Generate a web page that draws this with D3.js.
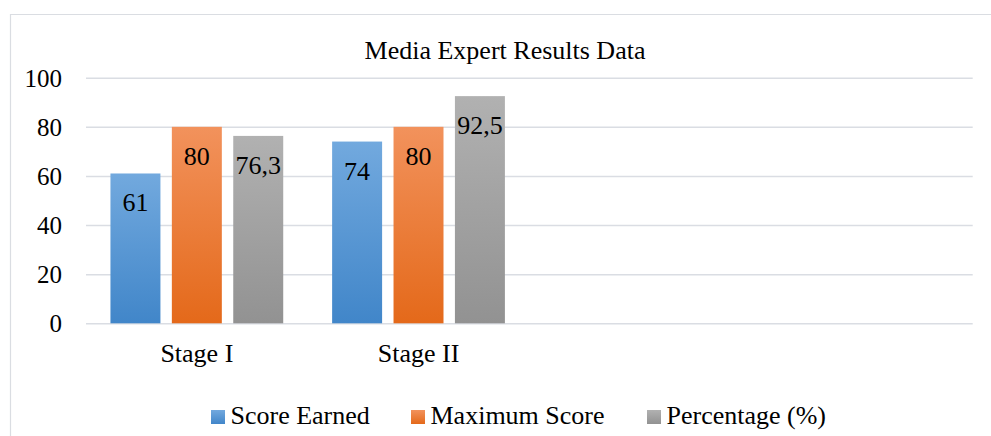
<!DOCTYPE html>
<html>
<head>
<meta charset="utf-8">
<script src="https://cdn.jsdelivr.net/npm/d3@7"></script>
<style>
  html, body { margin: 0; padding: 0; background: #fff; }
  svg { display: block; }
  text { font-family: "Liberation Serif", "Times New Roman", serif; fill: #000; }
</style>
</head>
<body>
<svg id="chart" width="991" height="436"></svg>
<script>
// ---- data ----
const categories = ["Stage I", "Stage II", "", ""];
const seriesNames = ["Score Earned", "Maximum Score", "Percentage (%)"];
const scoreEarned = [61, 74, null, null];
const maximumScore = [80, 80, null, null];
const percentage = [76.3, 92.5, null, null];
const yTicks = [0, 20, 40, 60, 80, 100];
const title = "Media Expert Results Data";

const seriesValues = [scoreEarned, maximumScore, percentage];
const gradients = [
  ["#72a9de", "#4186c9"],
  ["#f2925c", "#e4691a"],
  ["#b1b1b1", "#929292"]
];

const svg = d3.select("#chart");
const W = 991, H = 436;
const plot = { left: 86, right: 972.7, top: 77.7, bottom: 323.3 };

// defs: gradients
const defs = svg.append("defs");
gradients.forEach((g, i) => {
  const lg = defs.append("linearGradient").attr("id", "grad" + i)
    .attr("x1", 0).attr("y1", 0).attr("x2", 0).attr("y2", 1);
  lg.append("stop").attr("offset", "0%").attr("stop-color", g[0]);
  lg.append("stop").attr("offset", "100%").attr("stop-color", g[1]);
});

// outer border (left & top visible)
svg.append("path")
  .attr("d", `M10.5,${H} L10.5,14.5 L${W},14.5`)
  .attr("fill", "none").attr("stroke", "#dadde2").attr("stroke-width", 1.2);

// title
svg.append("text")
  .attr("x", 505).attr("y", 59)
  .attr("text-anchor", "middle")
  .attr("font-size", 26)
  .text(title);

// scales
const y = d3.scaleLinear().domain([0, 100]).range([plot.bottom, plot.top]);
const x0 = d3.scaleBand()
  .domain(d3.range(categories.length))
  .range([plot.left, plot.right])
  .paddingInner(0.2206).paddingOuter(0.1103);
const x1 = d3.scaleBand()
  .domain(d3.range(seriesNames.length))
  .range([0, x0.bandwidth()])
  .paddingInner(0.186).paddingOuter(0);

// gridlines via axis
const grid = svg.append("g")
  .attr("transform", `translate(${plot.left},0)`)
  .call(d3.axisLeft(y).tickValues(yTicks).tickSize(-(plot.right - plot.left)).tickFormat(""));
grid.select(".domain").remove();
grid.selectAll("line").attr("stroke", "#dadde3").attr("stroke-width", 1.6);

// y tick labels
const yAxis = svg.append("g")
  .attr("transform", `translate(62,0)`)
  .call(d3.axisLeft(y).tickValues(yTicks).tickSize(0).tickPadding(0));
yAxis.select(".domain").remove();
yAxis.selectAll("text")
  .attr("font-size", 25)
  .attr("font-family", '"Liberation Serif", "Times New Roman", serif')
  .attr("fill", "#000")
  .attr("dy", "0.34em");

// x tick labels
const xAxis = svg.append("g")
  .attr("transform", `translate(0,${plot.bottom})`)
  .call(d3.axisBottom(x0).tickSize(0).tickPadding(0).tickFormat(i => categories[i]));
xAxis.select(".domain").remove();
xAxis.selectAll("text")
  .attr("font-size", 26)
  .attr("font-family", '"Liberation Serif", "Times New Roman", serif')
  .attr("fill", "#000")
  .attr("dy", 0)
  .attr("y", 38.5);

// bars
const groups = svg.append("g").selectAll("g")
  .data(categories.map((c, i) => i))
  .join("g")
  .attr("transform", i => `translate(${x0(i)},0)`);

const barData = i => seriesValues.map((vals, s) => ({ s, v: vals[i] })).filter(d => d.v != null);

groups.selectAll("rect")
  .data(barData)
  .join("rect")
  .attr("x", d => x1(d.s))
  .attr("width", x1.bandwidth())
  .attr("y", d => y(d.v))
  .attr("height", d => y(0) - y(d.v))
  .attr("fill", d => `url(#grad${d.s})`);

groups.selectAll("text.lbl")
  .data(barData)
  .join("text")
  .attr("class", "lbl")
  .attr("x", d => x1(d.s) + x1.bandwidth() / 2)
  .attr("y", d => y(d.v) + 38)
  .attr("text-anchor", "middle")
  .attr("font-size", 26)
  .text(d => String(d.v).replace(".", ","));

// legend
const legendX = [211, 411, 647];
const legend = svg.append("g");
seriesNames.forEach((name, i) => {
  legend.append("rect")
    .attr("x", legendX[i]).attr("y", 410)
    .attr("width", 14).attr("height", 14)
    .attr("fill", `url(#grad${i})`);
  legend.append("text")
    .attr("x", legendX[i] + 19.5).attr("y", 424)
    .attr("font-size", 26)
    .text(name);
});
</script>
</body>
</html>
